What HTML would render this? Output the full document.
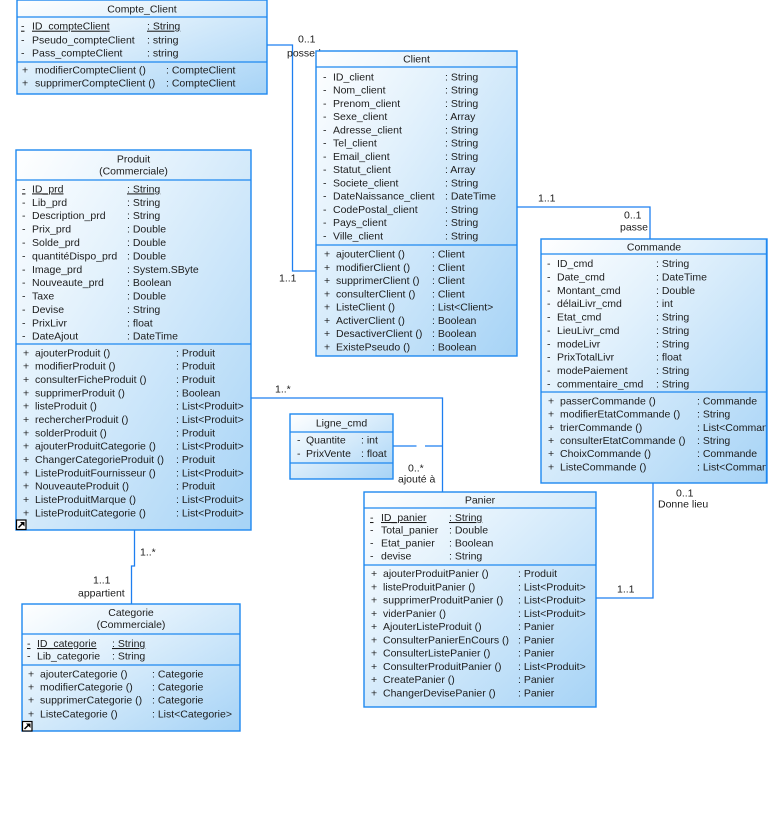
<!DOCTYPE html>
<html>
<head>
<meta charset="utf-8">
<style>
  html,body{margin:0;padding:0;background:#fff;}
  svg{display:block;}
  text{font-family:"Liberation Sans",Arial,sans-serif;font-size:10.5px;fill:#1c1c1c;}
  .u{text-decoration:underline;}
  .m{text-anchor:middle;}
</style>
</head>
<body>
<svg width="768" height="834" viewBox="0 0 768 834" xmlns="http://www.w3.org/2000/svg">
  <defs>
    <linearGradient id="g" x1="0" y1="0" x2="1" y2="1">
      <stop offset="0" stop-color="#ffffff"/>
      <stop offset="0.35" stop-color="#e2f1fc"/>
      <stop offset="1" stop-color="#a6d3f6"/>
    </linearGradient>
    <clipPath id="cc"><rect x="541" y="239" width="226" height="244"/></clipPath>
  </defs>
  <rect width="768" height="834" fill="#fff"/>

  <!-- connectors -->
  <g fill="none" stroke="#1e7ff0" stroke-width="1.3">
    <polyline points="267,45 292.5,45 292.5,271 316,271"/>
    <polyline points="517,207 650,207 650,239"/>
    <polyline points="251,398 442.5,398 442.5,492"/>
    <line x1="393" y1="446" x2="416.5" y2="446"/>
    <line x1="425" y1="446" x2="442.5" y2="446"/>
    <polyline points="596,598 653,598 653,483"/>
    <polyline points="134.5,530 134.5,566 131.5,566 131.5,604"/>
  </g>
  <!-- connector labels -->
  <text x="298" y="42.7">0..1</text>
  <text x="287" y="56.7">possede</text>
  <text x="279" y="281.7">1..1</text>
  <text x="538" y="201.5">1..1</text>
  <text x="624" y="218.7">0..1</text>
  <text x="620" y="230.7">passe</text>
  <text x="275" y="392.7">1..*</text>
  <text x="408" y="471.7">0..*</text>
  <text x="398" y="482.7">ajouté à</text>
  <text x="617" y="592.7">1..1</text>
  <text x="676" y="496.7">0..1</text>
  <text x="658" y="507.7">Donne lieu</text>
  <text x="140" y="555.7">1..*</text>
  <text x="93" y="583.7">1..1</text>
  <text x="78" y="596.7">appartient</text>

  <!-- ============ Compte_Client ============ -->
  <g>
    <rect x="17" y="0" width="250" height="94" fill="url(#g)" stroke="#1e88f0" stroke-width="1.4"/>
    <line x1="17" y1="17" x2="267" y2="17" stroke="#1e88f0" stroke-width="1.2"/>
    <line x1="17" y1="62" x2="267" y2="62" stroke="#1e88f0" stroke-width="1.2"/>
    <text class="m" x="142" y="12.7">Compte_Client</text>
    <text class="u" x="21" y="29.7">-</text><text class="u" x="32" y="29.7">ID_compteClient</text><text class="u" x="147" y="29.7">: String</text>
    <text x="21" y="43.7">-</text><text x="32" y="43.7">Pseudo_compteClient</text><text x="147" y="43.7">: string</text>
    <text x="21" y="56.7">-</text><text x="32" y="56.7">Pass_compteClient</text><text x="147" y="56.7">: string</text>
    <text x="22" y="73.7">+</text><text x="35" y="73.7">modifierCompteClient ()</text><text x="166" y="73.7">: CompteClient</text>
    <text x="22" y="86.7">+</text><text x="35" y="86.7">supprimerCompteClient ()</text><text x="166" y="86.7">: CompteClient</text>
  </g>

  <!-- ============ Client ============ -->
  <g>
    <rect x="316" y="51" width="201" height="305" fill="url(#g)" stroke="#1e88f0" stroke-width="1.4"/>
    <line x1="316" y1="67" x2="517" y2="67" stroke="#1e88f0" stroke-width="1.2"/>
    <line x1="316" y1="245" x2="517" y2="245" stroke="#1e88f0" stroke-width="1.2"/>
    <text class="m" x="416.5" y="62.7">Client</text>
    <text x="323" y="80.4">-</text><text x="333" y="80.4">ID_client</text><text x="445" y="80.4">: String</text>
    <text x="323" y="93.7">-</text><text x="333" y="93.7">Nom_client</text><text x="445" y="93.7">: String</text>
    <text x="323" y="106.9">-</text><text x="333" y="106.9">Prenom_client</text><text x="445" y="106.9">: String</text>
    <text x="323" y="120.2">-</text><text x="333" y="120.2">Sexe_client</text><text x="445" y="120.2">: Array</text>
    <text x="323" y="133.4">-</text><text x="333" y="133.4">Adresse_client</text><text x="445" y="133.4">: String</text>
    <text x="323" y="146.7">-</text><text x="333" y="146.7">Tel_client</text><text x="445" y="146.7">: String</text>
    <text x="323" y="159.9">-</text><text x="333" y="159.9">Email_client</text><text x="445" y="159.9">: String</text>
    <text x="323" y="173.2">-</text><text x="333" y="173.2">Statut_client</text><text x="445" y="173.2">: Array</text>
    <text x="323" y="186.4">-</text><text x="333" y="186.4">Societe_client</text><text x="445" y="186.4">: String</text>
    <text x="323" y="199.7">-</text><text x="333" y="199.7">DateNaissance_client</text><text x="445" y="199.7">: DateTime</text>
    <text x="323" y="212.9">-</text><text x="333" y="212.9">CodePostal_client</text><text x="445" y="212.9">: String</text>
    <text x="323" y="226.2">-</text><text x="333" y="226.2">Pays_client</text><text x="445" y="226.2">: String</text>
    <text x="323" y="239.4">-</text><text x="333" y="239.4">Ville_client</text><text x="445" y="239.4">: String</text>
    <text x="324" y="257.7">+</text><text x="336" y="257.7">ajouterClient ()</text><text x="432" y="257.7">: Client</text>
    <text x="324" y="271">+</text><text x="336" y="271">modifierClient ()</text><text x="432" y="271">: Client</text>
    <text x="324" y="284.2">+</text><text x="336" y="284.2">supprimerClient ()</text><text x="432" y="284.2">: Client</text>
    <text x="324" y="297.5">+</text><text x="336" y="297.5">consulterClient ()</text><text x="432" y="297.5">: Client</text>
    <text x="324" y="310.7">+</text><text x="336" y="310.7">ListeClient ()</text><text x="432" y="310.7">: List&lt;Client&gt;</text>
    <text x="324" y="324">+</text><text x="336" y="324">ActiverClient ()</text><text x="432" y="324">: Boolean</text>
    <text x="324" y="337.2">+</text><text x="336" y="337.2">DesactiverClient ()</text><text x="432" y="337.2">: Boolean</text>
    <text x="324" y="350.5">+</text><text x="336" y="350.5">ExistePseudo ()</text><text x="432" y="350.5">: Boolean</text>
  </g>

  <!-- ============ Produit ============ -->
  <g>
    <rect x="16" y="150" width="235" height="380" fill="url(#g)" stroke="#1e88f0" stroke-width="1.4"/>
    <line x1="16" y1="180" x2="251" y2="180" stroke="#1e88f0" stroke-width="1.2"/>
    <line x1="16" y1="344" x2="251" y2="344" stroke="#1e88f0" stroke-width="1.2"/>
    <text class="m" x="133.5" y="162.7">Produit</text>
    <text class="m" x="133.5" y="174.7">(Commerciale)</text>
    <text class="u" x="22" y="192.4">-</text><text class="u" x="32" y="192.4">ID_prd</text><text class="u" x="127" y="192.4">: String</text>
    <text x="22" y="205.8">-</text><text x="32" y="205.8">Lib_prd</text><text x="127" y="205.8">: String</text>
    <text x="22" y="219.2">-</text><text x="32" y="219.2">Description_prd</text><text x="127" y="219.2">: String</text>
    <text x="22" y="232.6">-</text><text x="32" y="232.6">Prix_prd</text><text x="127" y="232.6">: Double</text>
    <text x="22" y="246">-</text><text x="32" y="246">Solde_prd</text><text x="127" y="246">: Double</text>
    <text x="22" y="259.4">-</text><text x="32" y="259.4">quantitéDispo_prd</text><text x="127" y="259.4">: Double</text>
    <text x="22" y="272.8">-</text><text x="32" y="272.8">Image_prd</text><text x="127" y="272.8">: System.SByte</text>
    <text x="22" y="286.2">-</text><text x="32" y="286.2">Nouveaute_prd</text><text x="127" y="286.2">: Boolean</text>
    <text x="22" y="299.6">-</text><text x="32" y="299.6">Taxe</text><text x="127" y="299.6">: Double</text>
    <text x="22" y="313">-</text><text x="32" y="313">Devise</text><text x="127" y="313">: String</text>
    <text x="22" y="326.4">-</text><text x="32" y="326.4">PrixLivr</text><text x="127" y="326.4">: float</text>
    <text x="22" y="339.7">-</text><text x="32" y="339.7">DateAjout</text><text x="127" y="339.7">: DateTime</text>
    <text x="23" y="356.4">+</text><text x="35" y="356.4">ajouterProduit ()</text><text x="176" y="356.4">: Produit</text>
    <text x="23" y="369.7">+</text><text x="35" y="369.7">modifierProduit ()</text><text x="176" y="369.7">: Produit</text>
    <text x="23" y="383.1">+</text><text x="35" y="383.1">consulterFicheProduit ()</text><text x="176" y="383.1">: Produit</text>
    <text x="23" y="396.4">+</text><text x="35" y="396.4">supprimerProduit ()</text><text x="176" y="396.4">: Boolean</text>
    <text x="23" y="409.7">+</text><text x="35" y="409.7">listeProduit ()</text><text x="176" y="409.7">: List&lt;Produit&gt;</text>
    <text x="23" y="423.1">+</text><text x="35" y="423.1">rechercherProduit ()</text><text x="176" y="423.1">: List&lt;Produit&gt;</text>
    <text x="23" y="436.4">+</text><text x="35" y="436.4">solderProduit ()</text><text x="176" y="436.4">: Produit</text>
    <text x="23" y="449.7">+</text><text x="35" y="449.7">ajouterProduitCategorie ()</text><text x="176" y="449.7">: List&lt;Produit&gt;</text>
    <text x="23" y="463.1">+</text><text x="35" y="463.1">ChangerCategorieProduit ()</text><text x="176" y="463.1">: Produit</text>
    <text x="23" y="476.4">+</text><text x="35" y="476.4">ListeProduitFournisseur ()</text><text x="176" y="476.4">: List&lt;Produit&gt;</text>
    <text x="23" y="489.7">+</text><text x="35" y="489.7">NouveauteProduit ()</text><text x="176" y="489.7">: Produit</text>
    <text x="23" y="503.1">+</text><text x="35" y="503.1">ListeProduitMarque ()</text><text x="176" y="503.1">: List&lt;Produit&gt;</text>
    <text x="23" y="516.4">+</text><text x="35" y="516.4">ListeProduitCategorie ()</text><text x="176" y="516.4">: List&lt;Produit&gt;</text>
    <rect x="16.5" y="520" width="9.5" height="9.5" fill="#fff" stroke="#000" stroke-width="1.2"/>
    <path d="M18.5,527.5 L22.5,523.5" stroke="#000" stroke-width="1.5"/>
    <path d="M20,522 L24.5,522 L24.5,526.5 Z" fill="#000"/>
  </g>

  <!-- ============ Commande ============ -->
  <g>
    <rect x="541" y="239" width="226" height="244" fill="url(#g)" stroke="#1e88f0" stroke-width="1.4"/>
    <line x1="541" y1="254" x2="767" y2="254" stroke="#1e88f0" stroke-width="1.2"/>
    <line x1="541" y1="392" x2="767" y2="392" stroke="#1e88f0" stroke-width="1.2"/>
    <g clip-path="url(#cc)">
    <text class="m" x="654" y="250.4">Commande</text>
    <text x="547" y="267">-</text><text x="557" y="267">ID_cmd</text><text x="656" y="267">: String</text>
    <text x="547" y="280.4">-</text><text x="557" y="280.4">Date_cmd</text><text x="656" y="280.4">: DateTime</text>
    <text x="547" y="293.8">-</text><text x="557" y="293.8">Montant_cmd</text><text x="656" y="293.8">: Double</text>
    <text x="547" y="307.1">-</text><text x="557" y="307.1">délaiLivr_cmd</text><text x="656" y="307.1">: int</text>
    <text x="547" y="320.5">-</text><text x="557" y="320.5">Etat_cmd</text><text x="656" y="320.5">: String</text>
    <text x="547" y="333.9">-</text><text x="557" y="333.9">LieuLivr_cmd</text><text x="656" y="333.9">: String</text>
    <text x="547" y="347.3">-</text><text x="557" y="347.3">modeLivr</text><text x="656" y="347.3">: String</text>
    <text x="547" y="360.7">-</text><text x="557" y="360.7">PrixTotalLivr</text><text x="656" y="360.7">: float</text>
    <text x="547" y="374">-</text><text x="557" y="374">modePaiement</text><text x="656" y="374">: String</text>
    <text x="547" y="387.4">-</text><text x="557" y="387.4">commentaire_cmd</text><text x="656" y="387.4">: String</text>
    <text x="548" y="404.4">+</text><text x="560" y="404.4">passerCommande ()</text><text x="697" y="404.4">: Commande</text>
    <text x="548" y="417.6">+</text><text x="560" y="417.6">modifierEtatCommande ()</text><text x="697" y="417.6">: String</text>
    <text x="548" y="430.8">+</text><text x="560" y="430.8">trierCommande ()</text><text x="697" y="430.8">: List&lt;Commande&gt;</text>
    <text x="548" y="444">+</text><text x="560" y="444">consulterEtatCommande ()</text><text x="697" y="444">: String</text>
    <text x="548" y="457.2">+</text><text x="560" y="457.2">ChoixCommande ()</text><text x="697" y="457.2">: Commande</text>
    <text x="548" y="470.4">+</text><text x="560" y="470.4">ListeCommande ()</text><text x="697" y="470.4">: List&lt;Commande&gt;</text>
    </g>
    <line x1="766.5" y1="239" x2="766.5" y2="483" stroke="#1e88f0" stroke-width="1.4"/>
  </g>

  <!-- ============ Ligne_cmd ============ -->
  <g>
    <rect x="290" y="414" width="103" height="65" fill="url(#g)" stroke="#1e88f0" stroke-width="1.4"/>
    <line x1="290" y1="432" x2="393" y2="432" stroke="#1e88f0" stroke-width="1.2"/>
    <line x1="290" y1="463" x2="393" y2="463" stroke="#1e88f0" stroke-width="1.2"/>
    <text class="m" x="341.5" y="426.4">Ligne_cmd</text>
    <text x="297" y="443.7">-</text><text x="306" y="443.7">Quantite</text><text x="361" y="443.7">: int</text>
    <text x="297" y="457">-</text><text x="306" y="457">PrixVente</text><text x="361" y="457">: float</text>
  </g>

  <!-- ============ Panier ============ -->
  <g>
    <rect x="364" y="492" width="232" height="215" fill="url(#g)" stroke="#1e88f0" stroke-width="1.4"/>
    <line x1="364" y1="508" x2="596" y2="508" stroke="#1e88f0" stroke-width="1.2"/>
    <line x1="364" y1="565" x2="596" y2="565" stroke="#1e88f0" stroke-width="1.2"/>
    <text class="m" x="480" y="503.7">Panier</text>
    <text class="u" x="370" y="521">-</text><text class="u" x="381" y="521">ID_panier</text><text class="u" x="449" y="521">: String</text>
    <text x="370" y="533.7">-</text><text x="381" y="533.7">Total_panier</text><text x="449" y="533.7">: Double</text>
    <text x="370" y="546.7">-</text><text x="381" y="546.7">Etat_panier</text><text x="449" y="546.7">: Boolean</text>
    <text x="370" y="559.7">-</text><text x="381" y="559.7">devise</text><text x="449" y="559.7">: String</text>
    <text x="371" y="577">+</text><text x="383" y="577">ajouterProduitPanier ()</text><text x="518" y="577">: Produit</text>
    <text x="371" y="590.3">+</text><text x="383" y="590.3">listeProduitPanier ()</text><text x="518" y="590.3">: List&lt;Produit&gt;</text>
    <text x="371" y="603.5">+</text><text x="383" y="603.5">supprimerProduitPanier ()</text><text x="518" y="603.5">: List&lt;Produit&gt;</text>
    <text x="371" y="616.8">+</text><text x="383" y="616.8">viderPanier ()</text><text x="518" y="616.8">: List&lt;Produit&gt;</text>
    <text x="371" y="630.1">+</text><text x="383" y="630.1">AjouterListeProduit ()</text><text x="518" y="630.1">: Panier</text>
    <text x="371" y="643.4">+</text><text x="383" y="643.4">ConsulterPanierEnCours ()</text><text x="518" y="643.4">: Panier</text>
    <text x="371" y="656.6">+</text><text x="383" y="656.6">ConsulterListePanier ()</text><text x="518" y="656.6">: Panier</text>
    <text x="371" y="669.9">+</text><text x="383" y="669.9">ConsulterProduitPanier ()</text><text x="518" y="669.9">: List&lt;Produit&gt;</text>
    <text x="371" y="683.2">+</text><text x="383" y="683.2">CreatePanier ()</text><text x="518" y="683.2">: Panier</text>
    <text x="371" y="696.4">+</text><text x="383" y="696.4">ChangerDevisePanier ()</text><text x="518" y="696.4">: Panier</text>
  </g>

  <!-- ============ Categorie ============ -->
  <g>
    <rect x="22" y="604" width="218" height="127" fill="url(#g)" stroke="#1e88f0" stroke-width="1.4"/>
    <line x1="22" y1="634" x2="240" y2="634" stroke="#1e88f0" stroke-width="1.2"/>
    <line x1="22" y1="665" x2="240" y2="665" stroke="#1e88f0" stroke-width="1.2"/>
    <text class="m" x="131" y="616">Categorie</text>
    <text class="m" x="131" y="628">(Commerciale)</text>
    <text class="u" x="27" y="647">-</text><text class="u" x="37" y="647">ID_categorie</text><text class="u" x="112" y="647">: String</text>
    <text x="27" y="659.4">-</text><text x="37" y="659.4">Lib_categorie</text><text x="112" y="659.4">: String</text>
    <text x="28" y="677.4">+</text><text x="40" y="677.4">ajouterCategorie ()</text><text x="152" y="677.4">: Categorie</text>
    <text x="28" y="690.7">+</text><text x="40" y="690.7">modifierCategorie ()</text><text x="152" y="690.7">: Categorie</text>
    <text x="28" y="703.7">+</text><text x="40" y="703.7">supprimerCategorie ()</text><text x="152" y="703.7">: Categorie</text>
    <text x="28" y="717.4">+</text><text x="40" y="717.4">ListeCategorie ()</text><text x="152" y="717.4">: List&lt;Categorie&gt;</text>
    <rect x="22.5" y="721.5" width="9.5" height="9.5" fill="#fff" stroke="#000" stroke-width="1.2"/>
    <path d="M24.5,729 L28.5,725" stroke="#000" stroke-width="1.5"/>
    <path d="M26,723.5 L30.5,723.5 L30.5,728 Z" fill="#000"/>
  </g>
</svg>
</body>
</html>
